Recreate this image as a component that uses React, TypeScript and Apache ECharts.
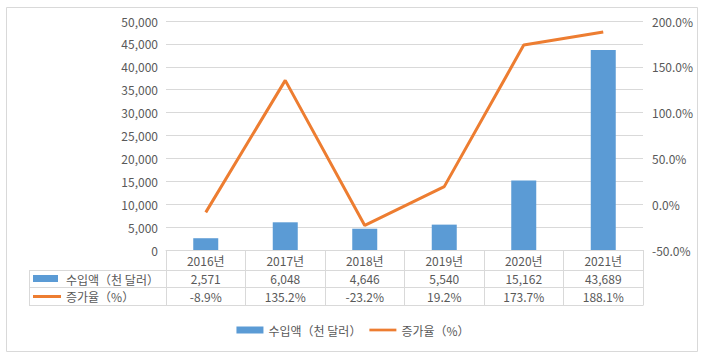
import React, { useEffect, useRef } from "react";
import * as echarts from "echarts";

const years = ["2016년", "2017년", "2018년", "2019년", "2020년", "2021년"];
const importValues = [2571, 6048, 4646, 5540, 15162, 43689];
const growthRates = [-8.9, 135.2, -23.2, 19.2, 173.7, 188.1];
const seriesNames = ["수입액（천 달러）", "증가율（%）"];

const FONT = "'Noto Sans CJK KR', 'Noto Sans', sans-serif";
const TXT = "#595959";
const GRID = "#D9D9D9";
const BLUE = "#5B9BD5";
const ORANGE = "#ED7D31";

export default function App() {
  const ref = useRef<HTMLDivElement>(null);
  useEffect(() => {
    document.body.style.margin = "0";
    const chart = echarts.init(ref.current!, null, { renderer: "svg" });
    const tableLeft = 29;
    const tableRight = 643.5;
    const rowLines = [270.5, 287.5, 305.5];
    const option: any = {
      animation: false,
      textStyle: { fontFamily: FONT, color: TXT },
      grid: { left: 166, right: 63, top: 21, bottom: 108 },
      legend: {
        bottom: 17,
        left: "center",
        itemWidth: 27,
        itemHeight: 7,
        itemGap: 8,
        textStyle: { fontFamily: FONT, color: TXT, fontSize: 12 },
        data: [
          { name: seriesNames[0], icon: "rect" },
          { name: seriesNames[1], icon: "path://M0,0 H30 V3 H0 Z", itemStyle: { color: ORANGE } },
        ],
      },
      xAxis: [
        {
          type: "category",
          data: years,
          position: "bottom",
          axisLine: { lineStyle: { color: GRID } },
          axisTick: { show: true, length: 55, interval: 0, lineStyle: { color: GRID } },
          axisLabel: { color: TXT, fontSize: 12, margin: 4, fontFamily: FONT },
        },
        {
          type: "category",
          data: years,
          position: "bottom",
          offset: 18,
          axisLine: { show: false },
          axisTick: { show: false },
          axisLabel: {
            color: TXT,
            fontSize: 12,
            margin: 4,
            fontFamily: FONT,
            interval: 0,
            formatter: (_v: string, i: number) => importValues[i].toLocaleString("en-US"),
          },
        },
        {
          type: "category",
          data: years,
          position: "bottom",
          offset: 36,
          axisLine: { show: false },
          axisTick: { show: false },
          axisLabel: {
            color: TXT,
            fontSize: 12,
            margin: 4,
            fontFamily: FONT,
            interval: 0,
            formatter: (_v: string, i: number) => growthRates[i].toFixed(1) + "%",
          },
        },
      ],
      yAxis: [
        {
          type: "value",
          min: 0,
          max: 50000,
          interval: 5000,
          axisLine: { show: false },
          axisTick: { show: false },
          splitLine: { lineStyle: { color: GRID } },
          axisLabel: {
            color: TXT,
            fontSize: 12,
            margin: 8,
            fontFamily: FONT,
            formatter: (v: number) => v.toLocaleString("en-US"),
          },
        },
        {
          type: "value",
          min: -50,
          max: 200,
          interval: 50,
          axisLine: { show: false },
          axisTick: { show: false },
          splitLine: { show: false },
          axisLabel: {
            color: TXT,
            fontSize: 12,
            margin: 9,
            fontFamily: FONT,
            formatter: (v: number) => v.toFixed(1) + "%",
          },
        },
      ],
      series: [
        {
          name: seriesNames[0],
          type: "bar",
          data: importValues,
          barWidth: 25,
          itemStyle: { color: BLUE },
          xAxisIndex: 0,
          yAxisIndex: 0,
        },
        {
          name: seriesNames[1],
          type: "line",
          data: growthRates,
          showSymbol: false,
          symbol: "none",
          lineStyle: { color: ORANGE, width: 3 },
          itemStyle: { color: ORANGE },
          xAxisIndex: 0,
          yAxisIndex: 1,
        },
      ],
      graphic: [
        {
          type: "rect",
          shape: { x: 6.5, y: 7.5, width: 691, height: 344 },
          style: { fill: "none", stroke: GRID, lineWidth: 1 },
          silent: true,
        },
        ...rowLines.map((y) => ({
          type: "line",
          shape: { x1: tableLeft, y1: y, x2: tableRight, y2: y },
          style: { stroke: GRID, lineWidth: 1 },
          silent: true,
        })),
        {
          type: "line",
          shape: { x1: tableLeft + 0.5, y1: rowLines[0], x2: tableLeft + 0.5, y2: rowLines[2] },
          style: { stroke: GRID, lineWidth: 1 },
          silent: true,
        },
        {
          type: "rect",
          shape: { x: 33, y: 275, width: 25, height: 7 },
          style: { fill: BLUE },
          silent: true,
        },
        {
          type: "text",
          x: 66,
          y: 279,
          style: { text: seriesNames[0], fill: TXT, font: `12px ${FONT}`, verticalAlign: "middle" },
          silent: true,
        },
        {
          type: "line",
          shape: { x1: 33, y1: 296.5, x2: 61, y2: 296.5 },
          style: { stroke: ORANGE, lineWidth: 3 },
          silent: true,
        },
        {
          type: "text",
          x: 66,
          y: 296.5,
          style: { text: seriesNames[1], fill: TXT, font: `12px ${FONT}`, verticalAlign: "middle" },
          silent: true,
        },
      ],
    };
    chart.setOption(option);
    return () => chart.dispose();
  }, []);
  return <div ref={ref} style={{ width: 706, height: 358 }} />;
}
